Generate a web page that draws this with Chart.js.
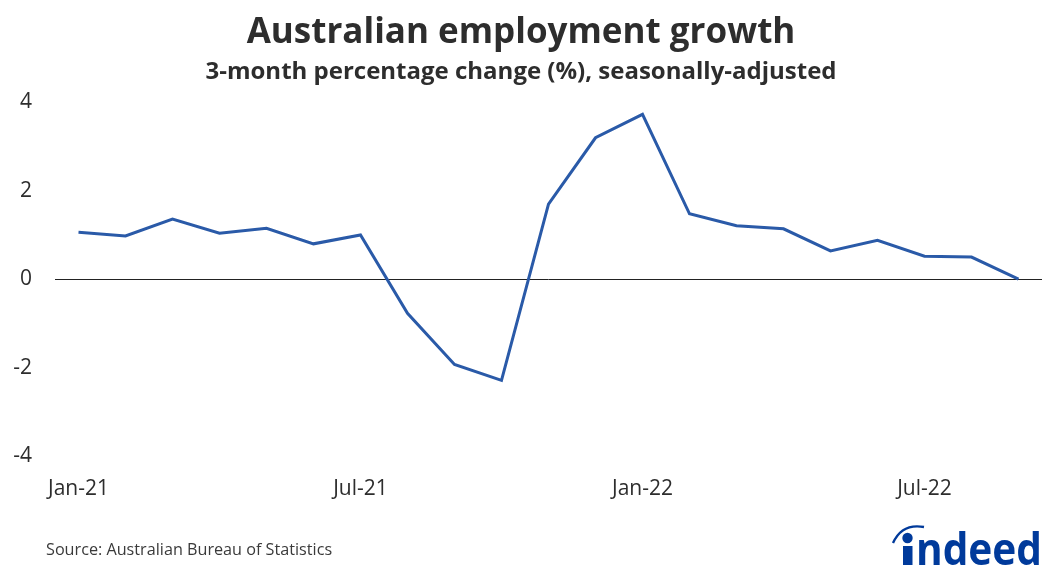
<!DOCTYPE html>
<html>
<head>
<meta charset="utf-8">
<style>
  html, body { margin: 0; padding: 0; background: #fff; }
  #wrap { width: 1056px; height: 576px; }
</style>
</head>
<body>
<div id="wrap"><canvas id="lineChart" width="1056" height="576"></canvas></div>
<script src="https://cdn.jsdelivr.net/npm/chart.js"></script>
<script>
  // Months, Jan-21 to Sep-22
  var months = ["Jan-21", "Feb-21", "Mar-21", "Apr-21", "May-21", "Jun-21",
                "Jul-21", "Aug-21", "Sep-21", "Oct-21", "Nov-21", "Dec-21",
                "Jan-22", "Feb-22", "Mar-22", "Apr-22", "May-22", "Jun-22",
                "Jul-22", "Aug-22", "Sep-22"];

  // 3-month % change, seasonally adjusted
  var growth = [1.06, 0.98, 1.36, 1.04, 1.15, 0.80,
                1.00, -0.77, -1.93, -2.29, 1.70, 3.20,
                3.73, 1.48, 1.21, 1.14, 0.64, 0.88,
                0.52, 0.50, 0.00];

  var yTicks = [-4, -2, 0, 2, 4];
  var xTickLabels = ["Jan-21", "Jul-21", "Jan-22", "Jul-22"];

  var textColor = '#2d2d2d';
  var lineBlue = '#2a5aa8';

  // Source note + logo, drawn under the chart
  var footer = {
    id: 'footer',
    afterDraw: function (chart) {
      var c = chart.ctx;
      c.save();
      c.fillStyle = '#3a3a3a';
      c.font = '16.2px "Open Sans"';
      c.textBaseline = 'middle';
      c.textAlign = 'left';
      c.fillText('Source: Australian Bureau of Statistics', 46, 550);

      // indeed logo
      var blue = '#003a9b';
      c.fillStyle = blue;
      c.strokeStyle = blue;
      c.beginPath();
      c.arc(907.5, 538, 5.2, 0, Math.PI * 2);
      c.fill();
      c.fillRect(903, 546, 9.5, 19);
      c.lineWidth = 2.4;
      c.beginPath();
      c.moveTo(893, 543);
      c.quadraticCurveTo(902, 523, 924, 527);
      c.stroke();
      c.font = 'bold 44px "Open Sans"';
      c.textBaseline = 'alphabetic';
      var w = c.measureText('ndeed').width;
      c.translate(916, 565);
      c.scale(126 / w, 1);
      c.fillText('ndeed', 0, 0);
      c.restore();
    }
  };

  var data = {
    labels: months,
    datasets: [{
      label: 'Employment growth',
      data: growth,
      borderColor: lineBlue,
      borderWidth: 3,
      pointRadius: 0,
      tension: 0,
      fill: false
    }]
  };

  var options = {
    responsive: false,
    animation: false,
    layout: { padding: { left: 0, right: 14, top: 0, bottom: 54 } },
    plugins: {
      legend: { display: false },
      tooltip: { enabled: false },
      title: {
        display: true,
        text: 'Australian employment growth',
        color: textColor,
        font: { family: '"Open Sans"', size: 35, weight: 'bold' },
        padding: { top: 12, bottom: 3.6 }
      },
      subtitle: {
        display: true,
        text: '3-month percentage change (%), seasonally-adjusted',
        color: textColor,
        font: { family: '"Open Sans"', size: 24, weight: 'bold' },
        padding: { top: 0, bottom: 16 }
      }
    },
    scales: {
      x: {
        offset: true,
        border: { display: false },
        grid: { display: false, drawTicks: false },
        ticks: {
          autoSkip: false,
          maxRotation: 0,
          padding: 20.4,
          color: textColor,
          font: { family: '"Open Sans"', size: 21 },
          callback: function (val, i) {
            var lab = months[i];
            return xTickLabels.indexOf(lab) >= 0 ? lab : '';
          }
        }
      },
      y: {
        min: -4,
        max: 4,
        border: { display: false },
        afterFit: function (scale) { scale.width = 55; },
        afterBuildTicks: function (scale) {
          scale.ticks = yTicks.map(function (v) { return { value: v }; });
        },
        grid: {
          drawTicks: false,
          color: function (ctx) { return ctx.tick && ctx.tick.value === 0 ? '#222' : 'rgba(0,0,0,0)'; },
          lineWidth: 1
        },
        ticks: {
          padding: 23,
          color: textColor,
          font: { family: '"Open Sans"', size: 21 }
        }
      }
    }
  };

  var ctx = document.getElementById('lineChart').getContext('2d');
  var myLineChart = new Chart(ctx, { type: 'line', data: data, options: options, plugins: [footer] });
</script>
</body>
</html>
